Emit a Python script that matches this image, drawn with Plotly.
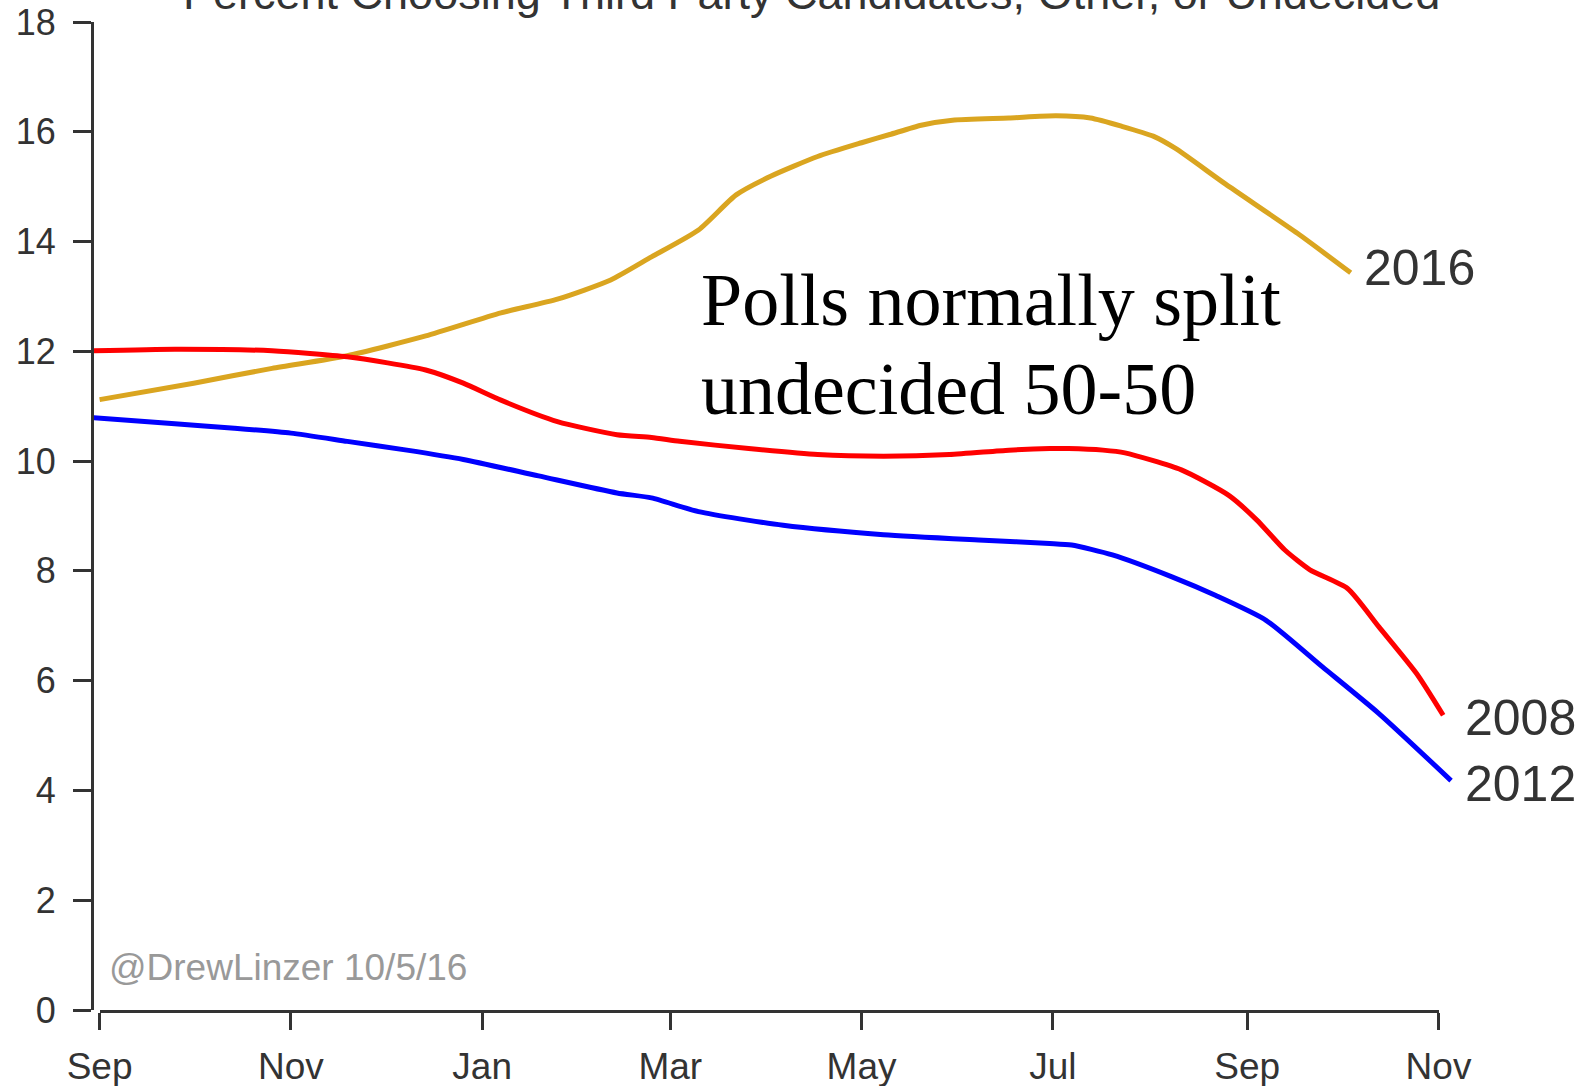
import plotly.graph_objects as go
from datetime import datetime, timedelta

# ---------------- data ----------------
dates_2016 = ["2015-09-01", "2015-10-01", "2015-10-26", "2015-11-19", "2015-12-14",
              "2016-01-07", "2016-01-25", "2016-02-11", "2016-02-24", "2016-03-10",
              "2016-03-22", "2016-04-02", "2016-04-17", "2016-05-01", "2016-05-10",
              "2016-05-20", "2016-05-30", "2016-06-17", "2016-07-02", "2016-07-13",
              "2016-07-23", "2016-08-02", "2016-08-09", "2016-08-25", "2016-09-17",
              "2016-10-04"]
pct_2016 = [11.12, 11.42, 11.69, 11.92, 12.28,
            12.70, 12.95, 13.30, 13.72, 14.21,
            14.85, 15.19, 15.55, 15.80, 15.95,
            16.12, 16.21, 16.25, 16.29, 16.25,
            16.10, 15.92, 15.70, 15.05, 14.15,
            13.43]

dates_2008 = ["2015-08-30", "2015-09-25", "2015-10-26", "2015-11-19", "2015-12-14",
              "2015-12-26", "2016-01-07", "2016-01-25", "2016-02-13", "2016-02-24",
              "2016-03-04", "2016-03-26", "2016-04-17", "2016-05-08", "2016-05-29",
              "2016-06-17", "2016-06-30", "2016-07-06", "2016-07-17", "2016-07-24",
              "2016-08-11", "2016-08-26", "2016-09-04", "2016-09-13", "2016-09-21",
              "2016-10-03", "2016-10-13", "2016-10-25", "2016-11-02 12:00"]
pct_2008 = [12.01, 12.04, 12.01, 11.90, 11.66,
            11.42, 11.11, 10.72, 10.48, 10.43,
            10.36, 10.23, 10.12, 10.09, 10.12,
            10.20, 10.23, 10.23, 10.20, 10.15,
            9.84, 9.38, 8.93, 8.38, 8.02,
            7.68, 6.98, 6.13, 5.37]

dates_2012 = ["2015-08-30", "2015-09-25", "2015-10-14", "2015-11-01", "2015-11-19",
              "2015-12-08", "2015-12-26", "2016-01-19", "2016-02-13", "2016-02-24",
              "2016-03-10", "2016-04-06", "2016-05-08", "2016-06-09", "2016-06-30",
              "2016-07-07", "2016-07-20", "2016-08-08", "2016-08-22", "2016-09-07",
              "2016-09-25", "2016-10-13", "2016-11-05"]
pct_2012 = [10.79, 10.68, 10.60, 10.51, 10.36,
            10.20, 10.03, 9.73, 9.42, 9.33,
            9.08, 8.83, 8.66, 8.56, 8.50,
            8.47, 8.29, 7.89, 7.55, 7.10,
            6.25, 5.40, 4.18]

series_names = ["2016", "2008", "2012"]
series_colors = ["#DAA520", "#FF0000", "#0000FF"]

tick_dates = ["2015-09-01", "2015-11-01", "2016-01-01", "2016-03-01",
              "2016-05-01", "2016-07-01", "2016-09-01", "2016-11-01"]
tick_labels = ["Sep", "Nov", "Jan", "Mar", "May", "Jul", "Sep", "Nov"]
y_ticks = [0, 2, 4, 6, 8, 10, 12, 14, 16, 18]

title_text = "Percent Choosing Third Party Candidates, Other, or Undecided"
note_lines = ["Polls normally split", "undecided 50-50"]
credit_text = "@DrewLinzer 10/5/16"

# ---------------- layout geometry ----------------
W, H = 1594, 1086
ML, MR, MT, MB = 94, 94, 22, 76
plot_w = W - ML - MR
sep_px, nov_px = 99.6, 1438.5
start, end = datetime(2015, 9, 1), datetime(2016, 11, 1)
px_per_day = (nov_px - sep_px) / (end - start).days
x_left = start - timedelta(days=(sep_px - ML) / px_per_day)
x_right = start + timedelta(days=(W - MR - sep_px) / px_per_day)
d0 = (sep_px - ML) / plot_w
d1 = (nov_px - ML) / plot_w

SANS = "Liberation Sans, Arial, Helvetica, sans-serif"
SERIF = "Liberation Serif, Times New Roman, serif"
AX = "#333333"

fig = go.Figure()
all_dates = [dates_2016, dates_2008, dates_2012]
all_vals = [pct_2016, pct_2008, pct_2012]
for name, color, xs, ys in zip(series_names, series_colors, all_dates, all_vals):
    fig.add_trace(go.Scatter(x=xs, y=ys, mode="lines", name=name,
                             line=dict(color=color, width=5, shape="spline", smoothing=0.6),
                             showlegend=False, hoverinfo="skip"))

# carrier trace for the bottom axis
fig.add_trace(go.Scatter(x=tick_dates, y=[None] * len(tick_dates), xaxis="x2", yaxis="y",
                         mode="lines", showlegend=False, hoverinfo="skip"))

label_shift = {"2016": (11, 5), "2008": (20, -3), "2012": (12, -3)}
annotations = []
for name, xs, ys in zip(series_names, all_dates, all_vals):
    dx, dy = label_shift[name]
    annotations.append(dict(x=xs[-1], y=ys[-1], xref="x", yref="y", text=name,
                            showarrow=False, xanchor="left", yanchor="middle",
                            xshift=dx, yshift=dy,
                            font=dict(family=SANS, size=50, color=AX)))

annotations.append(dict(x="2016-03-10", y=13.72, xref="x", yref="y", text=note_lines[0],
                        showarrow=False, xanchor="left", yanchor="top",
                        font=dict(family=SERIF, size=74, color="#000000")))
annotations.append(dict(x="2016-03-10", y=12.10, xref="x", yref="y", text=note_lines[1],
                        showarrow=False, xanchor="left", yanchor="top",
                        font=dict(family=SERIF, size=74, color="#000000")))

annotations.append(dict(x=(811 - ML) / plot_w, y=1, xref="paper", yref="paper",
                        text=title_text, showarrow=False, xanchor="center", yanchor="bottom",
                        yshift=1, font=dict(family=SANS, size=45, color=AX)))

annotations.append(dict(x=(107 - ML) / plot_w, y=0, xref="paper", yref="paper",
                        text=credit_text, showarrow=False, xanchor="left", yanchor="bottom",
                        yshift=20, font=dict(family=SANS, size=37, color="#999999")))

fig.update_layout(
    template="none",
    width=W, height=H,
    margin=dict(l=ML, r=MR, t=MT, b=MB, autoexpand=False),
    paper_bgcolor="white", plot_bgcolor="rgba(0,0,0,0)",
    annotations=annotations,
    xaxis=dict(type="date", range=[x_left.isoformat(), x_right.isoformat()],
               domain=[0, 1], showline=False, showgrid=False, zeroline=False,
               showticklabels=False, ticks="", automargin=False),
    xaxis2=dict(type="date", range=[start.isoformat(), end.isoformat()],
                domain=[d0, d1], anchor="y",
                showline=True, linecolor=AX, linewidth=3,
                ticks="outside", ticklen=17, tickwidth=2.5, tickcolor=AX,
                tickvals=tick_dates, ticktext=tick_labels,
                tickfont=dict(family=SANS, size=37, color=AX),
                ticklabelstandoff=5, automargin=False,
                showgrid=False, zeroline=False),
    yaxis=dict(range=[0, 18], anchor="x", showline=True, linecolor=AX, linewidth=3,
               ticks="outside", ticklen=18, tickwidth=2.5, tickcolor=AX,
               tickvals=y_ticks, ticktext=[str(v) for v in y_ticks],
               tickfont=dict(family=SANS, size=36, color=AX),
               ticklabelstandoff=10, automargin=False,
               showgrid=False, zeroline=False),
)

fig.write_html("out.html", config={"displayModeBar": False},
               post_script="document.body.style.margin='0';document.body.style.overflow='hidden';")
